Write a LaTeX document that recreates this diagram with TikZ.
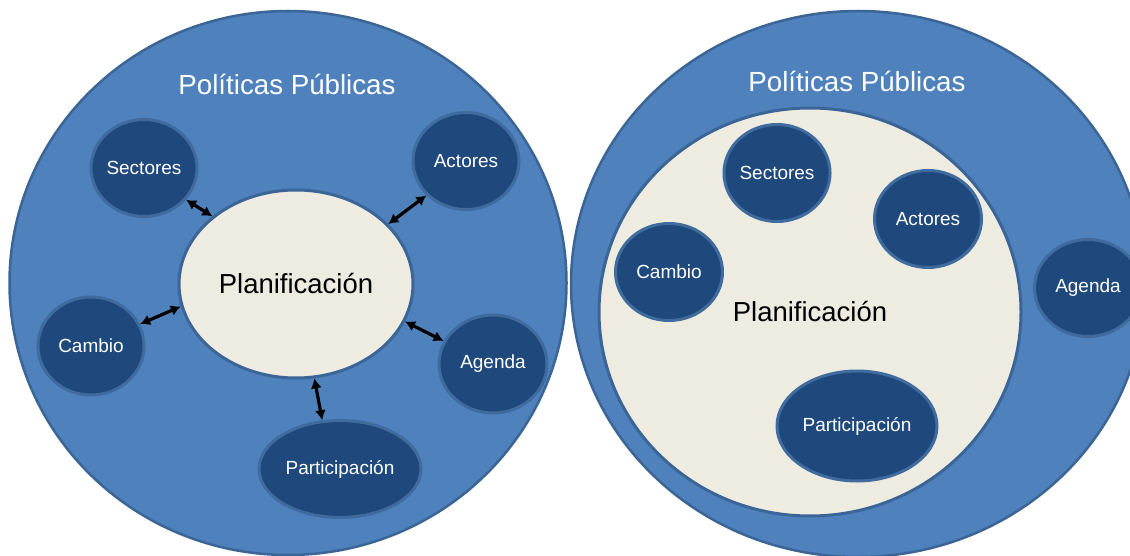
\documentclass[tikz,border=0pt]{standalone}
\usepackage{fontspec}
\setmainfont{Liberation Sans}
\usetikzlibrary{arrows.meta,shapes.geometric}
\definecolor{fieldblue}{HTML}{4F81BD}
\definecolor{fieldrim}{HTML}{3A6596}
\definecolor{topicblue}{HTML}{1F497D}
\definecolor{topicrim}{HTML}{3F6B9F}
\definecolor{paper}{HTML}{EEECE1}
\tikzstyle{field}=[ellipse, draw=fieldrim, line width=2.5pt, fill=fieldblue,
		inner sep=0pt]
\tikzstyle{plan}=[ellipse, draw=fieldrim, line width=3pt, fill=paper,
		inner sep=0pt, font=\fontsize{27.5}{30}\selectfont]
\tikzstyle{topic}=[ellipse, draw=topicrim, line width=3pt, fill=topicblue,
		inner sep=0pt, text=white, font=\fontsize{19}{22}\selectfont]
\tikzstyle{title}=[text=white, font=\fontsize{27.7}{30}\selectfont]
\tikzstyle{link}=[{Latex[length=10pt,width=11pt]}-{Latex[length=10pt,width=11pt]},
		line width=3.2pt]

\begin{document}
\begin{tikzpicture}[x=1pt,y=-1pt]
    \useasboundingbox (0,0) rectangle (1130,556);

    % planificacion in the middle, linked to each topic
    \node (FieldL) at (288,283) [field, minimum width=557pt,
            minimum height=544pt] {};
    \node (TitleL) at (287,84) [title] {Políticas Públicas};
    \node (PlanL) at (296,284) [plan, minimum width=234pt,
            minimum height=188pt] {Planificación};

    \node (SectoresL) at (144,168) [topic, minimum width=106pt,
            minimum height=97pt] {Sectores};
    \node (ActoresL) at (466,161) [topic, minimum width=106pt,
            minimum height=97pt] {Actores};
    \node (CambioL) at (91,346) [topic, minimum width=106pt,
            minimum height=98pt] {Cambio};
    \node (AgendaL) at (493,364) [topic, minimum width=108pt,
            minimum height=98pt] {Agenda};
    \node (PartL) at (340,469) [topic, minimum width=162pt,
            minimum height=97pt] {Participación};

    \draw[link] (SectoresL.323) -- (PlanL.141);
    \draw[link] (ActoresL.221) -- (PlanL.33);
    \draw[link] (CambioL.24) -- (PlanL.191);
    \draw[link] (AgendaL.155) -- (PlanL.341);
    \draw[link] (PartL.110) -- (PlanL.281);

    % planificacion holding the topics
    \node (FieldR) at (858,284) [field, minimum width=574pt,
            minimum height=546pt] {};
    \node (TitleR) at (857,81) [title] {Políticas Públicas};
    \node (PlanR) at (810,312) [plan, minimum width=422pt,
            minimum height=408pt] {Planificación};

    \node (SectoresR) at (777,173) [topic, minimum width=106pt,
            minimum height=97pt] {Sectores};
    \node (ActoresR) at (928,219) [topic, minimum width=107pt,
            minimum height=97pt] {Actores};
    \node (CambioR) at (669,272) [topic, minimum width=107pt,
            minimum height=97pt] {Cambio};
    \node (AgendaR) at (1088,288) [topic, minimum width=107pt,
            minimum height=97pt] {Agenda};
    \node (PartR) at (857,426) [topic, minimum width=160pt,
            minimum height=110pt] {Participación};

\end{tikzpicture}
\end{document}
